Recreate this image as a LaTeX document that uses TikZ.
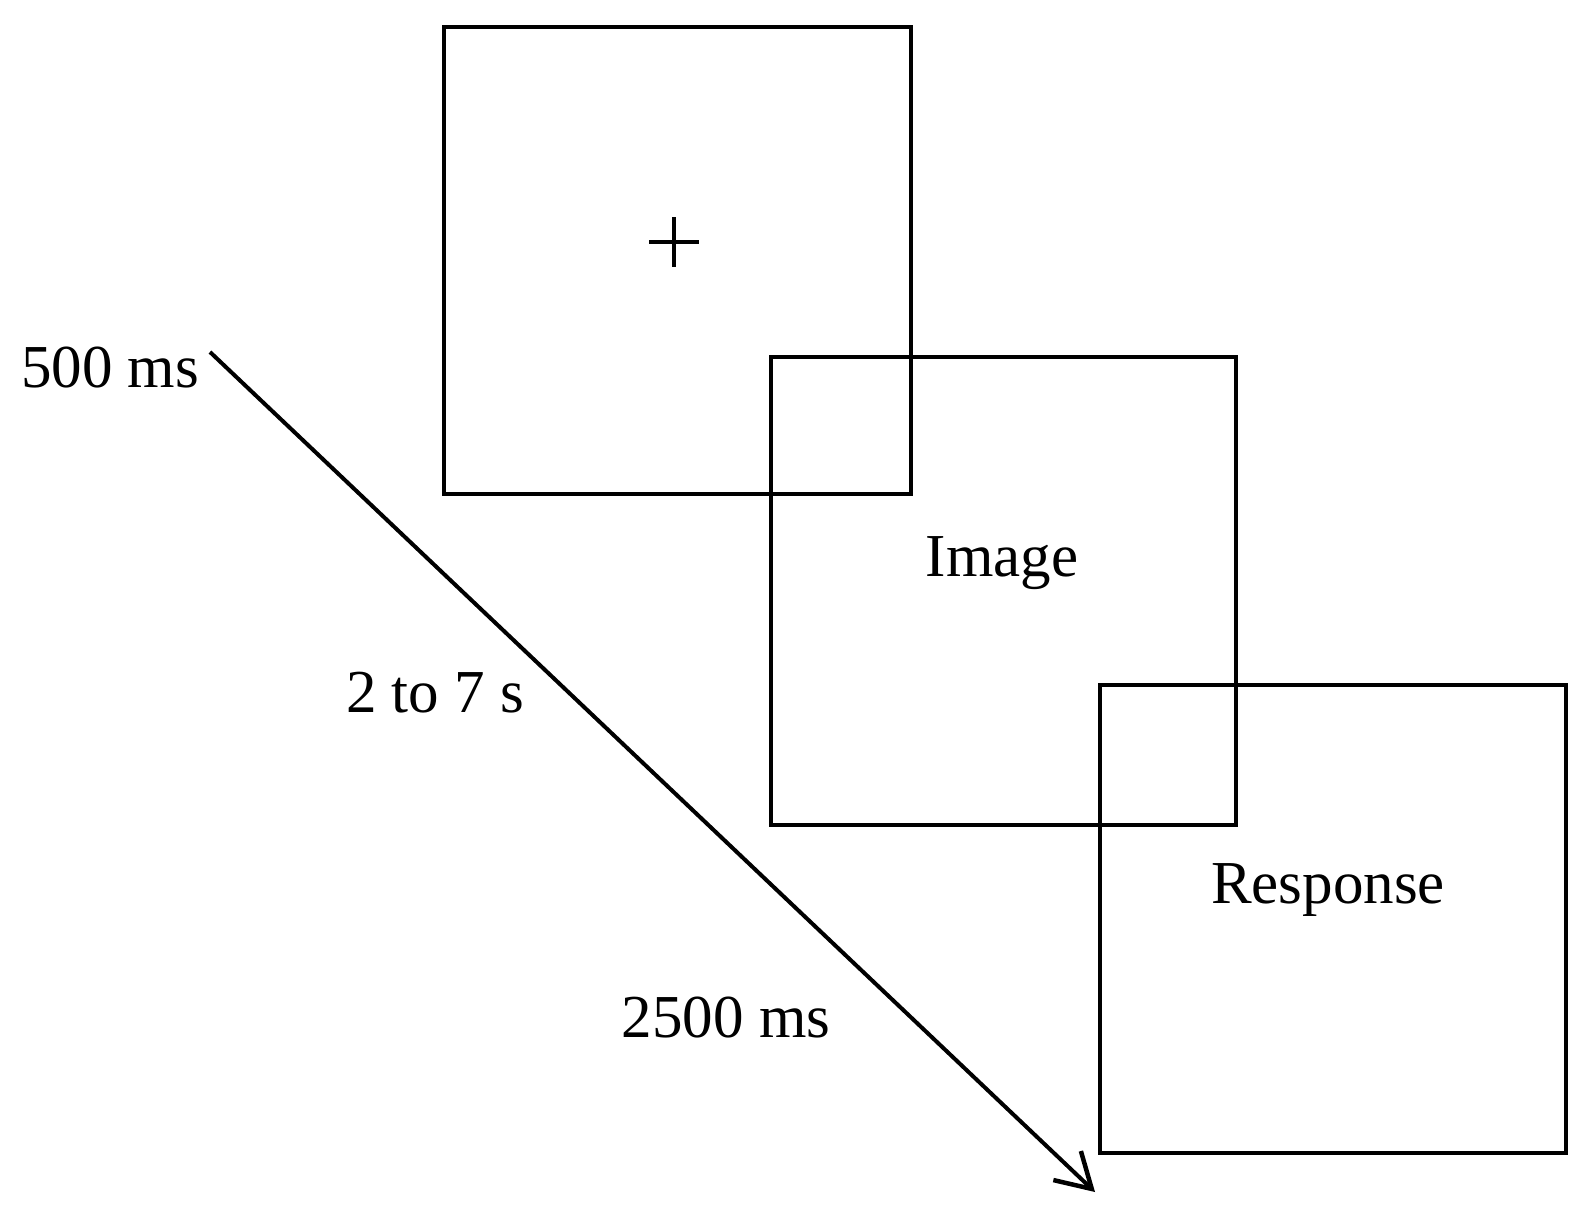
\documentclass[tikz,border=0pt]{standalone}
\usepackage{fontspec}
\setmainfont{Liberation Serif}
\usetikzlibrary{arrows.meta}
\begin{document}
\begin{tikzpicture}[x=1pt,y=-1pt,
  screen/.style={draw=black,line width=3.2pt},
  lbl/.style={font=\fontsize{61}{63}\selectfont,inner sep=0pt,anchor=base},
  timeline/.style={line width=4pt,-{Straight Barb[length=34pt,width=40pt,line width=4.5pt]}}]
\useasboundingbox (0,0) rectangle (1587,1207);
\draw[screen] (444,27) rectangle (911,494);
\draw[screen] (771,357) rectangle (1236,825);
\draw[screen] (1100,685) rectangle (1566,1153);
\draw[line width=3.2pt] (674,217) -- (674,267);
\draw[line width=3.2pt] (649,242) -- (699,242);
\node[lbl] (img) at (1002,576) {Image};
\node[lbl] (resp) at (1328,903) {Response};
\node[lbl] (t1) at (110,387) {500 ms};
\node[lbl] (t2) at (435,712) {2 to 7 s};
\node[lbl] (t3) at (726,1037) {2500 ms};
\coordinate (a0) at (210,352);
\coordinate (a1) at (1095,1192);
\draw[timeline] (a0) -- (a1);
\end{tikzpicture}
\end{document}
